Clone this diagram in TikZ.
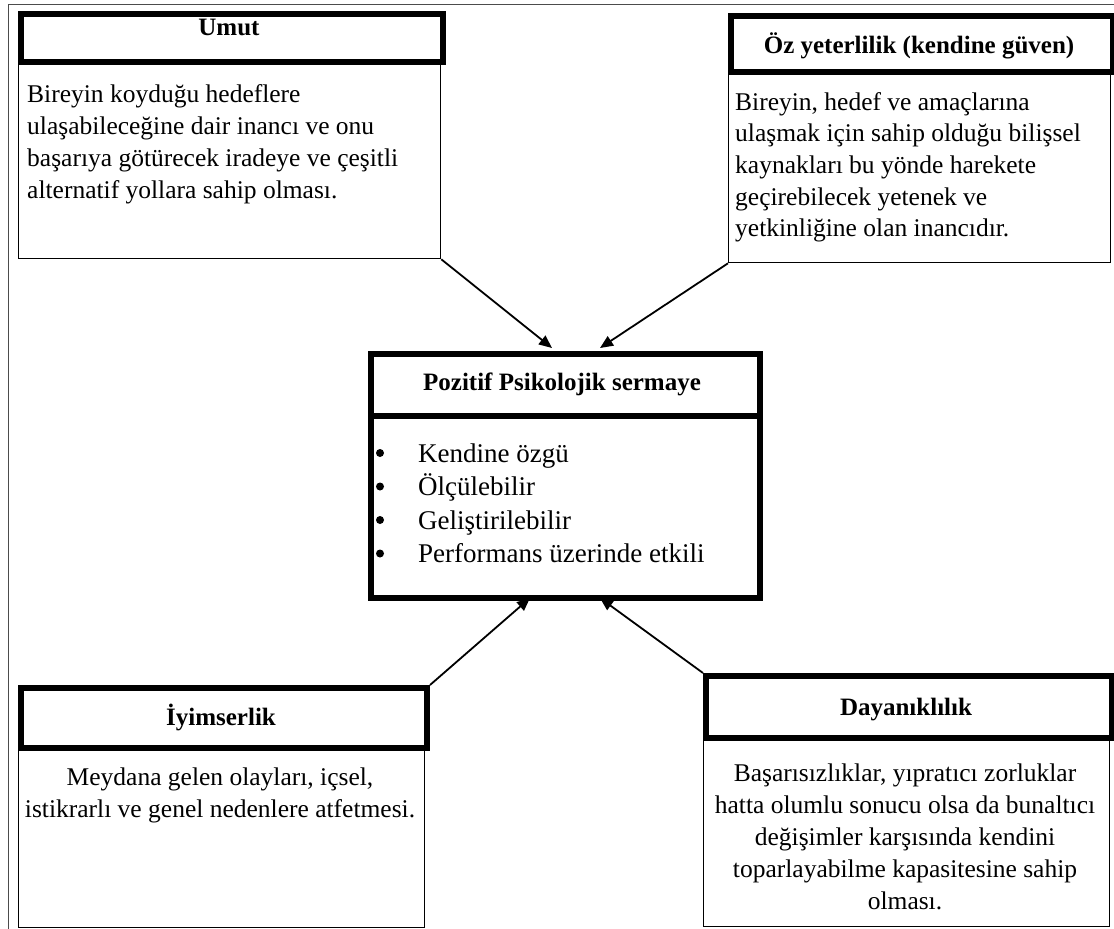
\documentclass[tikz,border=0pt]{standalone}
\usepackage{fontspec}
\setmainfont{Liberation Serif}
\usetikzlibrary{arrows.meta}
\begin{document}
\begin{tikzpicture}[x=1pt,y=-1pt,
  headbox/.style={draw, line width=6pt, fill=white, inner sep=0pt, anchor=north west},
  bodybox/.style={draw, line width=1.3pt, fill=white, inner sep=0pt, anchor=north west},
  headtxt/.style={font=\fontsize{25}{30}\selectfont\bfseries, inner sep=0pt, anchor=base},
  bodytxt/.style={font=\fontsize{25.5}{32}\selectfont, inner sep=0pt},
  itemtxt/.style={font=\fontsize{27}{34}\selectfont, inner sep=0pt, anchor=base west},
  itemdot/.style={circle, fill, inner sep=0pt, minimum size=8pt},
  link/.style={line width=1.8pt, -{Triangle[length=13pt,width=11pt]}},
]
\useasboundingbox (0,0) rectangle (1114,929);
% outer page frame
\draw[line width=1pt, black!70] (8,929) -- (8,4) -- (1114,4);

% Umut
\node[bodybox, minimum width=422pt, minimum height=199pt] (umutB) at (18,59) {};
\node[headbox, minimum width=422pt, minimum height=48pt] (umutH) at (18,11) {};
\node[headtxt] (umutT) at (229,35) {Umut};
\foreach \t [count=\i] in {{Bireyin koyduğu hedeflere},
  {ulaşabileceğine dair inancı ve onu},
  {başarıya götürecek iradeye ve çeşitli},
  {alternatif yollara sahip olması.}}
  \node[bodytxt, anchor=base west] (umutL\i) at (27,{102+32*(\i-1)}) {\t};

% Öz yeterlilik
\node[bodybox, minimum width=382pt, minimum height=193pt] (ozB) at (728,69) {};
\node[headbox, minimum width=382pt, minimum height=56pt] (ozH) at (728,13) {};
\node[headtxt] (ozT) at (919,53) {Öz yeterlilik (kendine güven)};
\foreach \t [count=\i] in {{Bireyin, hedef ve amaçlarına},
  {ulaşmak için sahip olduğu bilişsel},
  {kaynakları bu yönde harekete},
  {geçirebilecek yetenek ve},
  {yetkinliğine olan inancıdır.}}
  \node[bodytxt, anchor=base west] (ozL\i) at (735,{110+31.7*(\i-1)}) {\t};

% central box
\node[headbox, minimum width=389pt, minimum height=182pt] (coreB) at (368,413) {};
\node[headbox, minimum width=389pt, minimum height=62pt] (coreH) at (368,351) {};
\node[headtxt] (coreT) at (562,390) {Pozitif Psikolojik sermaye};
\foreach \t [count=\i] in {{Kendine özgü},{Ölçülebilir},{Geliştirilebilir},{Performans üzerinde etkili}}{
  \node[itemdot] (dot\i) at (380,{453+33.5*(\i-1)}) {};
  \node[itemtxt] (item\i) at (418,{462+33.5*(\i-1)}) {\t};
}

% İyimserlik
\node[bodybox, minimum width=406pt, minimum height=182pt] (iyiB) at (18,745) {};
\node[headbox, minimum width=406pt, minimum height=60pt] (iyiH) at (18,685) {};
\node[headtxt] (iyiT) at (221,725) {İyimserlik};
\foreach \t [count=\i] in {{Meydana gelen olayları, içsel,},
  {istikrarlı ve genel nedenlere atfetmesi.}}
  \node[bodytxt, anchor=base] (iyiL\i) at (220,{785+32*(\i-1)}) {\t};

% Dayanıklılık
\node[bodybox, minimum width=406pt, minimum height=191pt] (dayB) at (703,735) {};
\node[headbox, minimum width=406pt, minimum height=62pt] (dayH) at (703,673) {};
\node[headtxt] (dayT) at (906,715) {Dayanıklılık};
\foreach \t [count=\i] in {{Başarısızlıklar, yıpratıcı zorluklar},
  {hatta olumlu sonucu olsa da bunaltıcı},
  {değişimler karşısında kendini},
  {toparlayabilme kapasitesine sahip},
  {olması.}}
  \node[bodytxt, anchor=base] (dayL\i) at (905,{781+32*(\i-1)}) {\t};

% arrow tips on the central box
\coordinate (tipA) at (552,348);
\coordinate (tipB) at (600,348);
\coordinate (tipC) at (530,598);
\coordinate (tipD) at (600,598);

\draw[link] (umutB.south east) -- (tipA);
\draw[link] (ozB.south west) -- (tipB);
\draw[link] (iyiH.north east) -- (tipC);
\draw[link] (dayH.north west) -- (tipD);
\end{tikzpicture}
\end{document}
